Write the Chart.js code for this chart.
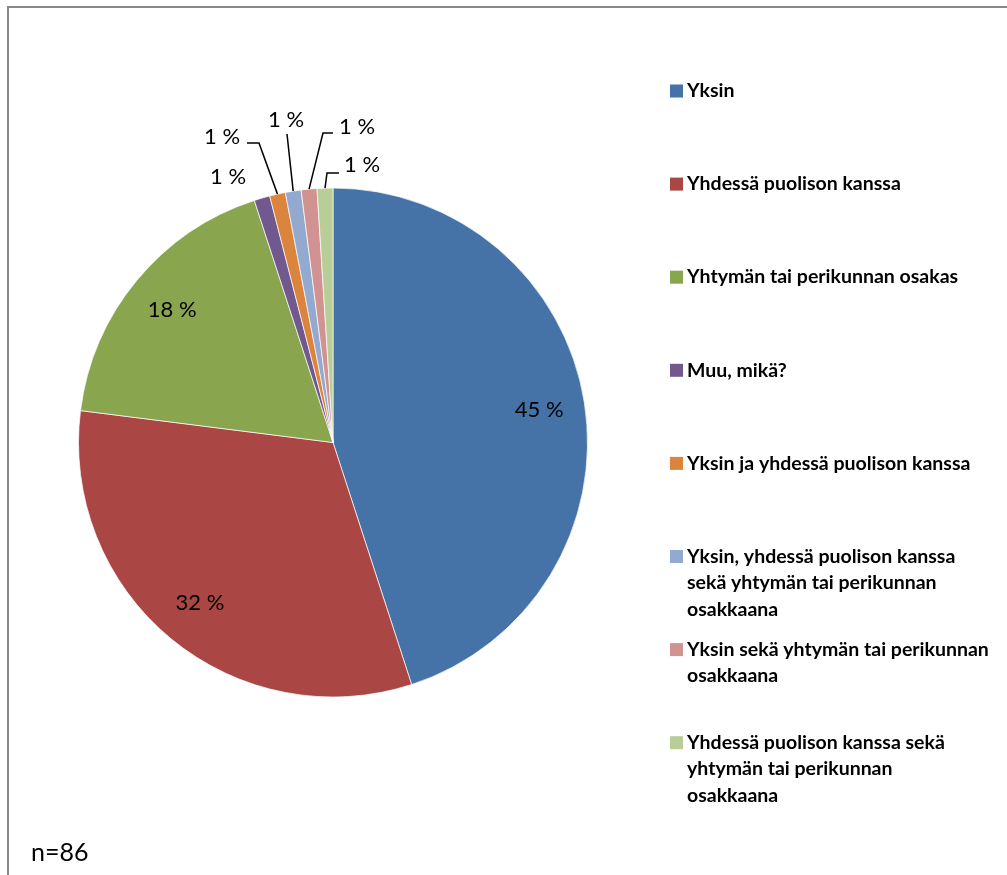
<!DOCTYPE html>
<html lang="fi">
<head>
<meta charset="UTF-8">
<title>Omistusmuoto</title>
<script src="https://cdn.jsdelivr.net/npm/chart.js"></script>
<style>
  body { margin: 0; background: #fff; }
  .frame {
    position: absolute; left: 7px; top: 6px; width: 1010px; height: 880px;
    border-top: 2px solid #878787; border-left: 2px solid #878787;
  }
  canvas { position: absolute; left: 0; top: 0; }
</style>
</head>
<body>
<div class="frame"></div>
<canvas id="pie" width="1007" height="875"></canvas>
<script>
// omistusmuodot, monirivinen nimi taulukkona
const categories = [
  'Yksin',
  'Yhdessä puolison kanssa',
  'Yhtymän tai perikunnan osakas',
  'Muu, mikä?',
  'Yksin ja yhdessä puolison kanssa',
  ['Yksin, yhdessä puolison kanssa', 'sekä yhtymän tai perikunnan', 'osakkaana'],
  ['Yksin sekä yhtymän tai perikunnan', 'osakkaana'],
  ['Yhdessä puolison kanssa sekä', 'yhtymän tai perikunnan', 'osakkaana']
];
const shares = [45, 32, 18, 1, 1, 1, 1, 1];
const sliceColors = ['#4572A7', '#AA4643', '#89A54E', '#71588F', '#DB843D', '#93A9CF', '#D19392', '#B9CD96'];
const sampleSize = 86;

const FONT = 'Lato, "Open Sans", sans-serif';

// pienten sektorien otsikot ulkopuolella, viivat sektorin reunaan
const callouts = {
  3: { at: [228, 177], path: [] },
  4: { at: [222, 137], path: [[259, 143], [247, 143]] },
  5: { at: [286, 120], path: [[287, 134]] },
  6: { at: [357, 127], path: [[323, 133], [333, 133]] },
  7: { at: [362, 165], path: [[327, 173], [339, 173]] }
};

const sliceLabels = {
  id: 'sliceLabels',
  afterDatasetsDraw(chart) {
    const ctx = chart.ctx;
    const arcs = chart.getDatasetMeta(0).data;
    ctx.save();
    ctx.font = '22px ' + FONT;
    ctx.fillStyle = '#000';
    ctx.textAlign = 'center';
    ctx.textBaseline = 'middle';
    arcs.forEach((arc, i) => {
      const p = arc.getProps(['x', 'y', 'startAngle', 'endAngle', 'outerRadius'], true);
      const mid = (p.startAngle + p.endAngle) / 2;
      const text = shares[i] + ' %';
      const c = callouts[i];
      if (!c) {
        const r = p.outerRadius * 0.82;
        ctx.fillText(text, p.x + Math.cos(mid) * r, p.y + Math.sin(mid) * r);
        return;
      }
      if (c.path.length) {
        ctx.beginPath();
        ctx.moveTo(p.x + Math.cos(mid) * p.outerRadius, p.y + Math.sin(mid) * p.outerRadius);
        c.path.forEach(([x, y]) => ctx.lineTo(x, y));
        ctx.strokeStyle = '#000';
        ctx.lineWidth = 1.5;
        ctx.stroke();
      }
      ctx.fillText(text, c.at[0], c.at[1]);
    });
    ctx.restore();
  }
};

const sideLegend = {
  id: 'sideLegend',
  afterDraw(chart) {
    const ctx = chart.ctx;
    ctx.save();
    ctx.font = 'bold 19.5px ' + FONT;
    ctx.textBaseline = 'middle';
    ctx.textAlign = 'left';
    categories.forEach((name, i) => {
      const y = 91 + i * 93.1;
      ctx.fillStyle = sliceColors[i];
      ctx.fillRect(670, y - 6.5, 13, 13);
      ctx.fillStyle = '#000';
      [].concat(name).forEach((line, j) => ctx.fillText(line, 687, y + j * 26.5));
    });
    ctx.font = '25px ' + FONT;
    ctx.fillText('n=' + sampleSize, 31, 853);
    ctx.restore();
  }
};

new Chart(document.getElementById('pie'), {
  type: 'pie',
  data: {
    labels: categories,
    datasets: [{
      data: shares,
      backgroundColor: sliceColors,
      borderColor: 'rgba(255,255,255,0.7)',
      borderWidth: 1
    }]
  },
  options: {
    responsive: false,
    animation: false,
    layout: { padding: { left: 78, top: 187, right: 419, bottom: 177 } },
    plugins: {
      legend: { display: false },
      tooltip: { enabled: false }
    }
  },
  plugins: [sliceLabels, sideLegend]
});
</script>
</body>
</html>
